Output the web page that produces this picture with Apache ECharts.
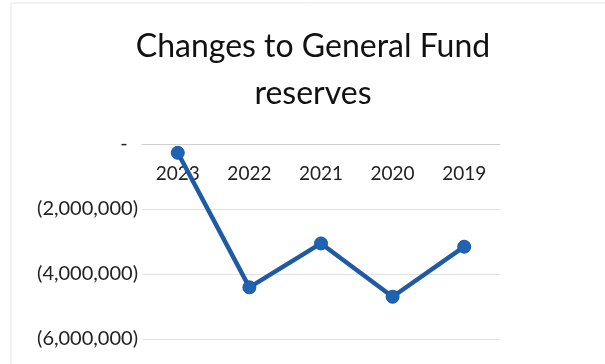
<!DOCTYPE html>
<html><head><meta charset="utf-8">
<script src="https://cdn.jsdelivr.net/npm/echarts@6/dist/echarts.min.js"></script>
<style>html,body{margin:0;padding:0;background:#fff}#c{width:605px;height:364px}</style>
</head><body><div id="c"></div>
<script>
const titleText = 'Changes to General Fund\nreserves';
const categories = ['2023', '2022', '2021', '2020', '2019'];
const values = [-270000, -4410000, -3060000, -4700000, -3160000];
const yTicks = [0, -2000000, -4000000, -6000000];

function fmt(v) {
  if (v === 0) return '-  ';
  const s = Math.abs(v).toLocaleString('en-US');
  return v < 0 ? '(' + s + ')' : s + ' ';
}

const chart = echarts.init(document.getElementById('c'));
chart.setOption({
  animation: false,
  title: {
    text: titleText, left: 308, textAlign: 'center', top: 18,
    textStyle: { fontFamily: 'Lato', fontSize: 32, fontWeight: 'normal', color: '#111', lineHeight: 47 }
  },
  graphic: [{ type: 'rect', shape: { x: 11, y: 3, width: 600, height: 370 }, style: { fill: 'none', stroke: '#e4e4e4', lineWidth: 1 } }],
  grid: { left: 142, right: 105, top: 144, bottom: 25, outerBoundsMode: 'none', containLabel: false },
  xAxis: {
    type: 'category', data: categories, boundaryGap: true, position: 'top',
    axisLine: { show: true, onZero: false, lineStyle: { color: '#d0d0d0', width: 1 } },
    axisTick: { show: false },
    axisLabel: { inside: true, margin: 20, fontFamily: 'Lato', fontSize: 19, color: '#222' }
  },
  yAxis: {
    type: 'value', min: yTicks[yTicks.length - 1], max: yTicks[0], interval: 2000000,
    axisLine: { show: false }, axisTick: { show: false },
    splitLine: { lineStyle: { color: '#e2e2e2', width: 1 } },
    axisLabel: { formatter: fmt, margin: 4, fontFamily: 'Lato', fontSize: 20, color: '#222' }
  },
  series: [{
    type: 'line', data: values, symbol: 'circle', symbolSize: 13,
    lineStyle: { color: '#1f5aa6', width: 4.5 },
    itemStyle: { color: '#1f63b4', borderColor: '#1a55a0', borderWidth: 1 }
  }]
});
</script></body></html>
